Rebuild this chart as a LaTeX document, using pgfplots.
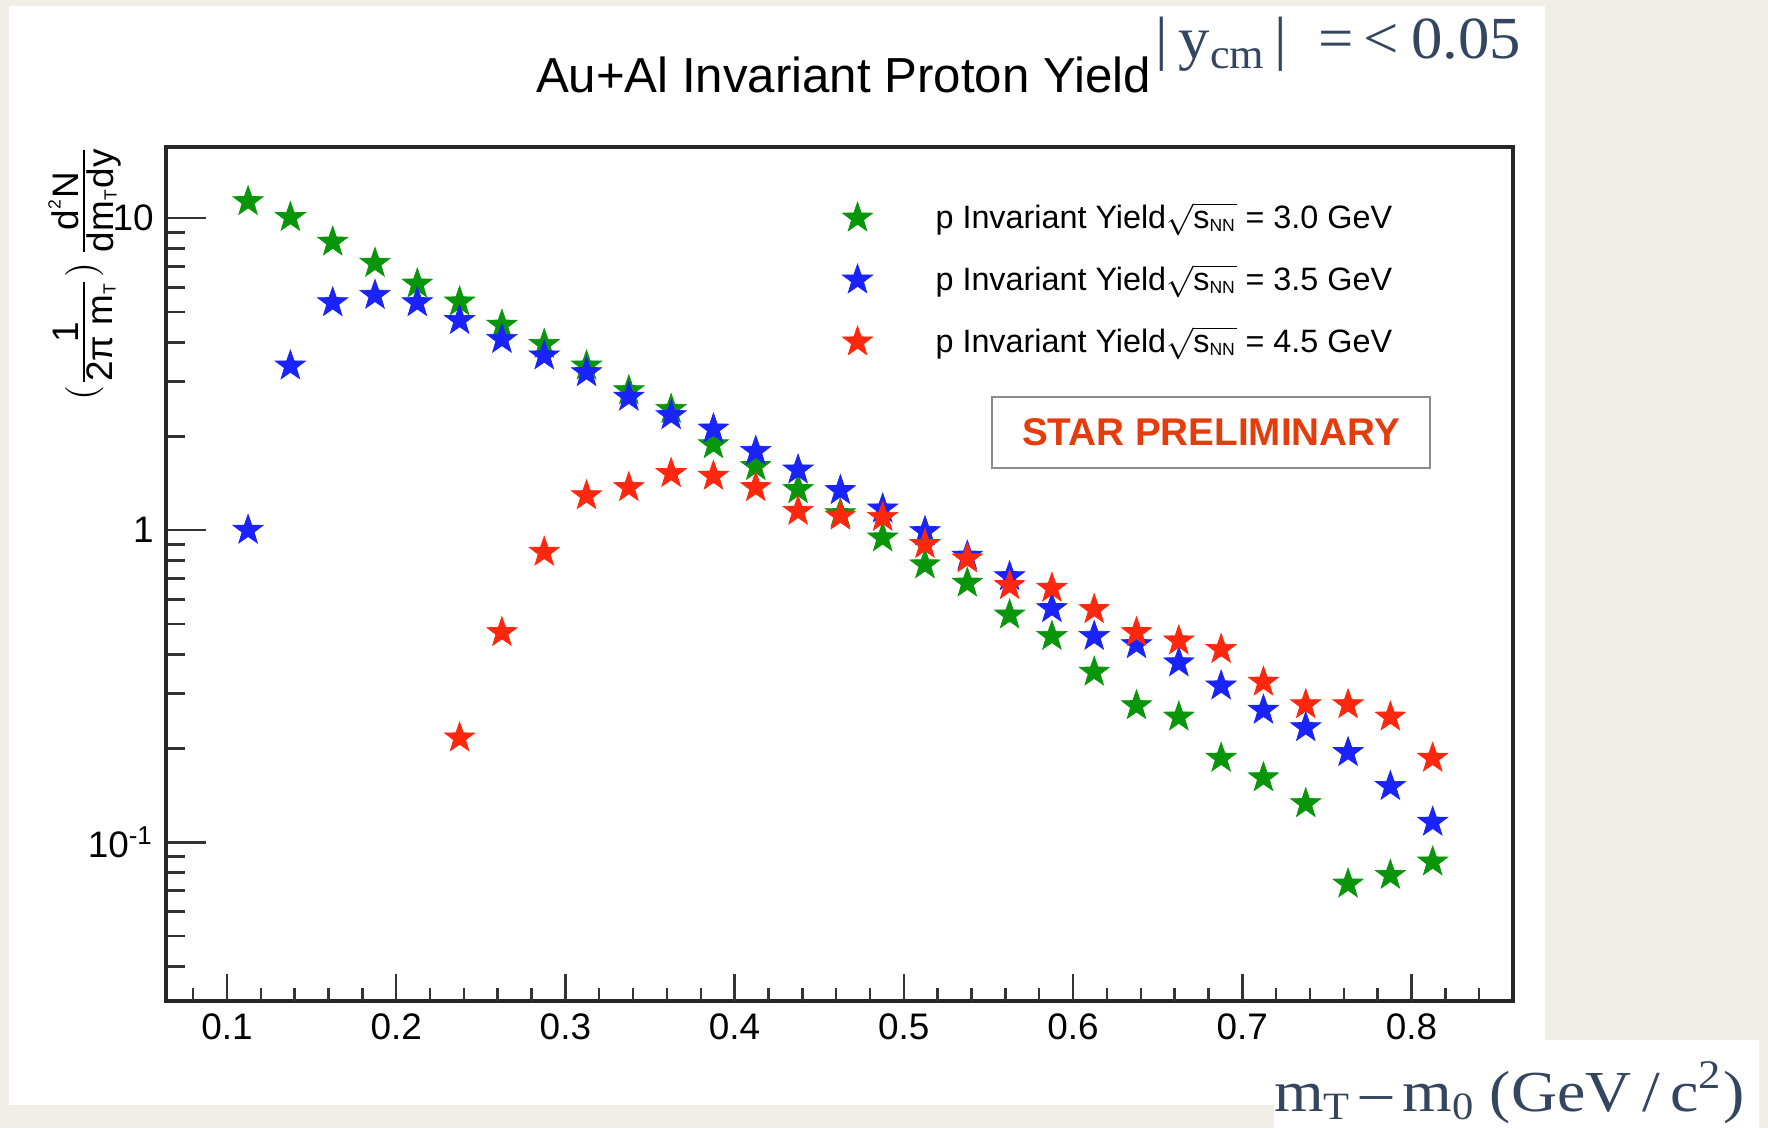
\documentclass[border=0pt]{standalone}
\usepackage{fontspec}
\setmainfont{Liberation Sans}
\newfontfamily\serifp{Liberation Serif}
\usepackage{pgfplots}
\usepackage{pgfplotstable}
\pgfplotsset{compat=1.18}
\definecolor{bg}{RGB}{241,238,232}
\definecolor{rgreen}{RGB}{10,150,10}
\definecolor{rblue}{RGB}{25,35,250}
\definecolor{rred}{RGB}{255,40,15}
\definecolor{starred}{RGB}{228,60,10}
\definecolor{slate}{RGB}{52,70,95}

\pgfdeclareplotmark{fstar}{%
  \pgfpathmoveto{\pgfqpoint{0pt}{\pgfplotmarksize}}%
  \pgfpathlineto{\pgfqpoint{-0.2351\pgfplotmarksize}{0.3236\pgfplotmarksize}}%
  \pgfpathlineto{\pgfqpoint{-0.9511\pgfplotmarksize}{0.3090\pgfplotmarksize}}%
  \pgfpathlineto{\pgfqpoint{-0.3804\pgfplotmarksize}{-0.1236\pgfplotmarksize}}%
  \pgfpathlineto{\pgfqpoint{-0.5878\pgfplotmarksize}{-0.8090\pgfplotmarksize}}%
  \pgfpathlineto{\pgfqpoint{0pt}{-0.4\pgfplotmarksize}}%
  \pgfpathlineto{\pgfqpoint{0.5878\pgfplotmarksize}{-0.8090\pgfplotmarksize}}%
  \pgfpathlineto{\pgfqpoint{0.3804\pgfplotmarksize}{-0.1236\pgfplotmarksize}}%
  \pgfpathlineto{\pgfqpoint{0.9511\pgfplotmarksize}{0.3090\pgfplotmarksize}}%
  \pgfpathlineto{\pgfqpoint{0.2351\pgfplotmarksize}{0.3236\pgfplotmarksize}}%
  \pgfpathclose
  \pgfusepathqfillstroke}

\pgfplotstableread{
x y
0.1125 11.3
0.1375 10.05
0.1625 8.38
0.1875 7.17
0.2125 6.15
0.2375 5.39
0.2625 4.54
0.2875 3.94
0.3125 3.36
0.3375 2.80
0.3625 2.44
0.3875 1.88
0.4125 1.60
0.4375 1.35
0.4625 1.13
0.4875 0.945
0.5125 0.775
0.5375 0.677
0.5625 0.535
0.5875 0.457
0.6125 0.351
0.6375 0.274
0.6625 0.252
0.6875 0.186
0.7125 0.161
0.7375 0.133
0.7625 0.0735
0.7875 0.0784
0.8125 0.0865
}\greendata

\pgfplotstableread{
x y
0.1125 1.0
0.1375 3.36
0.1625 5.36
0.1875 5.66
0.2125 5.36
0.2375 4.70
0.2625 4.09
0.2875 3.62
0.3125 3.20
0.3375 2.67
0.3625 2.33
0.3875 2.11
0.4125 1.79
0.4375 1.56
0.4625 1.34
0.4875 1.17
0.5125 0.99
0.5375 0.826
0.5625 0.71
0.5875 0.561
0.6125 0.457
0.6375 0.43
0.6625 0.376
0.6875 0.317
0.7125 0.265
0.7375 0.233
0.7625 0.194
0.7875 0.151
0.8125 0.116
}\bluedata

\pgfplotstableread{
x y
0.2375 0.216
0.2625 0.47
0.2875 0.85
0.3125 1.29
0.3375 1.37
0.3625 1.52
0.3875 1.49
0.4125 1.37
0.4375 1.15
0.4625 1.11
0.4875 1.10
0.5125 0.90
0.5375 0.81
0.5625 0.665
0.5875 0.652
0.6125 0.557
0.6375 0.470
0.6625 0.442
0.6875 0.415
0.7125 0.326
0.7375 0.276
0.7625 0.276
0.7875 0.252
0.8125 0.186
}\reddata

\begin{document}
\begin{tikzpicture}[x=1cm,y=1cm]
\useasboundingbox (0,0) rectangle (17.68,11.28);
\fill[bg] (0,0) rectangle (17.68,11.28);
\fill[white] (0.09,0.23) rectangle (15.45,11.22);

\begin{axis}[
  at={(1.66cm,1.27cm)}, anchor=south west,
  scale only axis, width=13.47cm, height=8.54cm,
  ymode=log, xmin=0.064, xmax=0.86, ymin=0.031, ymax=16.9,
  axis line style={line width=0.9pt, black!85},
  xtick=\empty,
  ytick={0.1,1,10},
  yticklabels={10\textsuperscript{-1},1,10},
  minor ytick={0.04,0.05,0.06,0.07,0.08,0.09,0.2,0.3,0.4,0.5,0.6,0.7,0.8,0.9,2,3,4,5,6,7,8,9},
  ytick pos=left, tick align=inside,
  major tick length=4mm, minor tick length=1.9mm,
  tick style={line width=0.7pt, black!80},
  yticklabel style={font=\fontsize{10.5}{12}\selectfont, /pgf/number format/assume math mode=true},
  legend style={draw=none, fill=none, at={(0.498,0.944)}, anchor=north west,
    inner sep=0pt, row sep=1.7mm, font=\fontsize{9.2}{11}\selectfont},
  legend cell align=left,
  legend image code/.code={\path[draw=none,fill=none] (-2mm,-0.5mm) rectangle (7.1mm,0.5mm);
     \draw[#1] plot coordinates {(0mm,0mm)};},
]
\addplot[only marks, mark=fstar, mark size=4.5pt, color=rgreen, mark options={fill=rgreen, draw=rgreen, line width=0.2pt}] table {\greendata};
\addlegendentry{p Invariant Yield$\sqrt{\mbox{s}_{\mbox{\tiny NN}}}$ = 3.0 GeV}
\addplot[only marks, mark=fstar, mark size=4.5pt, color=rblue, mark options={fill=rblue, draw=rblue, line width=0.2pt}] table {\bluedata};
\addlegendentry{p Invariant Yield$\sqrt{\mbox{s}_{\mbox{\tiny NN}}}$ = 3.5 GeV}
\addplot[only marks, mark=fstar, mark size=4.5pt, color=rred, mark options={fill=rred, draw=rred, line width=0.2pt}] table {\reddata};
\addlegendentry{p Invariant Yield$\sqrt{\mbox{s}_{\mbox{\tiny NN}}}$ = 4.5 GeV}
\end{axis}

\begin{axis}[
  at={(1.66cm,1.27cm)}, anchor=south west,
  scale only axis, width=13.47cm, height=8.54cm,
  xmin=0.064, xmax=0.86, ymin=0, ymax=1,
  axis line style={draw=none},
  ytick=\empty,
  xtick={0.1,0.2,0.3,0.4,0.5,0.6,0.7,0.8},
  xticklabels={0.1,0.2,0.3,0.4,0.5,0.6,0.7,0.8},
  minor xtick={0.08,0.12,0.14,0.16,0.18,0.22,0.24,0.26,0.28,0.32,0.34,0.36,0.38,0.42,0.44,0.46,0.48,0.52,0.54,0.56,0.58,0.62,0.64,0.66,0.68,0.72,0.74,0.76,0.78,0.82,0.84},
  xtick pos=lower, tick align=inside,
  major tick length=2.7mm, minor tick length=1.3mm,
  tick style={line width=0.7pt, black!80},
  xticklabel style={font=\fontsize{10.5}{12}\selectfont, /pgf/number format/assume math mode=true},
]
\end{axis}

\node[draw=black!45, line width=0.5pt, fill=white, minimum width=4.38cm, minimum height=0.71cm, inner sep=0pt,
  font=\fontsize{11}{13}\selectfont\bfseries, text=starred] at (12.11,6.955) {STAR PRELIMINARY};

\node[anchor=base, font=\fontsize{14}{16}\selectfont] at (8.435,10.355) {Au+Al Invariant Proton Yield};

\node[rotate=90, font=\fontsize{10.5}{12}\selectfont] at (0.845,8.55)
  {$(\frac{\mbox{1}}{\mbox{2π m}_{\mbox{\tiny T}}})\,\frac{\mbox{d}^{\mbox{\tiny 2}}\mbox{N}}{\mbox{dm}_{\mbox{\tiny T}}\mbox{dy}}$};

\node[anchor=base east, text=slate, inner sep=0pt, xscale=1.05] at (15.22,10.69)
  {\serifp\fontsize{17}{19}\selectfont |\,y\raisebox{-0.35ex}{\fontsize{12}{12}\selectfont cm}\,|\enspace=\hspace{0.15em}<\hspace{0.2em}0.05};

\fill[white] (12.74,0) rectangle (17.59,0.88);
\node[anchor=base east, text=slate, inner sep=0pt, xscale=1.1] at (17.45,0.17)
  {\serifp\fontsize{16.5}{19}\selectfont m\raisebox{-0.3ex}{\fontsize{11}{11}\selectfont T}\,–\,m\raisebox{-0.3ex}{\fontsize{11}{11}\selectfont 0}\ (GeV\,/\,c\textsuperscript{2})};
\end{tikzpicture}
\end{document}
